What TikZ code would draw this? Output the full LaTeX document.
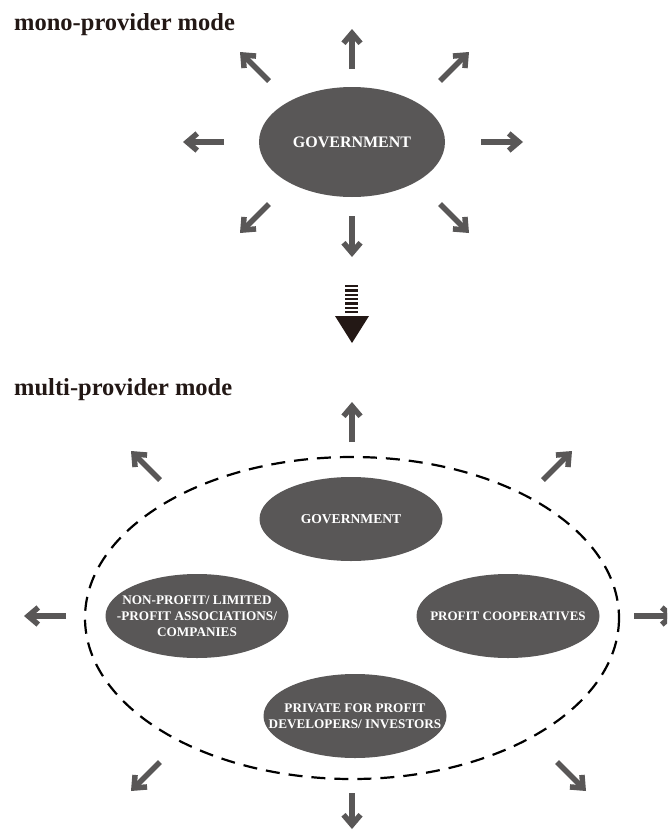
\documentclass[tikz,border=0pt]{standalone}
\usepackage{fontspec}
\setmainfont{Liberation Serif}
\usetikzlibrary{arrows.meta,shapes.geometric}
\definecolor{boxgray}{RGB}{89,87,87}
\definecolor{inkblack}{RGB}{35,24,21}
\begin{document}
\begin{tikzpicture}[x=1pt,y=-1pt,
  provider/.style={ellipse,fill=boxgray,inner sep=0pt,
    minimum width=183pt,minimum height=84pt},
  providertext/.style={text=white,inner sep=0pt,align=center,
    font=\bfseries\fontsize{13.2}{16}\selectfont},
  outarrow/.style={draw=boxgray,line width=5.5pt,
    -{Straight Barb[length=10pt,width=17pt,line cap=butt,line join=miter]}},
  modetitle/.style={anchor=base west,inner sep=0pt,text=inkblack,
    font=\bfseries\fontsize{24.5}{28}\selectfont},
  boundary/.style={draw=black,line width=2.2pt,dash pattern=on 14pt off 9pt}]
\useasboundingbox (0,0) rectangle (667,830);
\clip (0,0) rectangle (667,830);

% ---------- mono-provider mode ----------
\node[modetitle] (monotitle) at (14,30) {mono-provider mode};
\node[provider,minimum width=186pt,minimum height=110pt,
      label={[providertext,font=\bfseries\fontsize{16}{19}\selectfont]center:GOVERNMENT}]
      (gov) at (352,142) {};

% radiating arrows: tail coordinate -> tip coordinate
\foreach \nm/\tx/\ty/\hx/\hy in {
    mn/352/69/352/29, mne/440/81/469/52, me/481/142/523/142, mse/440/204/469/233,
    ms/352/216/352/257, msw/269/204/240/233, mw/224/142/183/142, mnw/269/81/240/52}{
  \coordinate (\nm-tail) at (\tx,\ty);
  \coordinate (\nm-tip) at (\hx,\hy);
  \draw[outarrow] (\nm-tail) -- (\nm-tip);
}

% ---------- transition arrow ----------
\foreach \i in {0,...,6}
  \fill[inkblack] (345,285+\i*4.3) rectangle (357.5,287.3+\i*4.3);
\fill[inkblack] (335,316) -- (369,316) -- (352,343) -- cycle;

% ---------- multi-provider mode ----------
\node[modetitle] (multititle) at (14,395) {multi-provider mode};
\draw[boundary] (352,618) ellipse [x radius=267, y radius=161];

\node[provider,label={[providertext,font=\bfseries\fontsize{13.6}{16}\selectfont]center:GOVERNMENT}]
  (gov2) at (351,519) {};
\node[provider,label={[providertext]center:NON-PROFIT/ LIMITED\\-PROFIT ASSOCIATIONS/\\COMPANIES}]
  (nonprofit) at (197,616) {};
\node[provider,label={[providertext,font=\bfseries\fontsize{13}{16}\selectfont]center:PROFIT COOPERATIVES}]
  (coop) at (508,616) {};
\node[provider,label={[providertext]center:PRIVATE FOR PROFIT\\DEVELOPERS/ INVESTORS}]
  (private) at (355,716) {};

\foreach \nm/\tx/\ty/\hx/\hy in {
    pn/352/442/352/402, pne/543/480/572/451, pe/634/616/676/616, pse/557/762/586/791,
    ps/352/793/352/829, psw/160/762/131/791, pw/66/616/24/616, pnw/160/480/131/451}{
  \coordinate (\nm-tail) at (\tx,\ty);
  \coordinate (\nm-tip) at (\hx,\hy);
  \draw[outarrow] (\nm-tail) -- (\nm-tip);
}
\end{tikzpicture}
\end{document}
